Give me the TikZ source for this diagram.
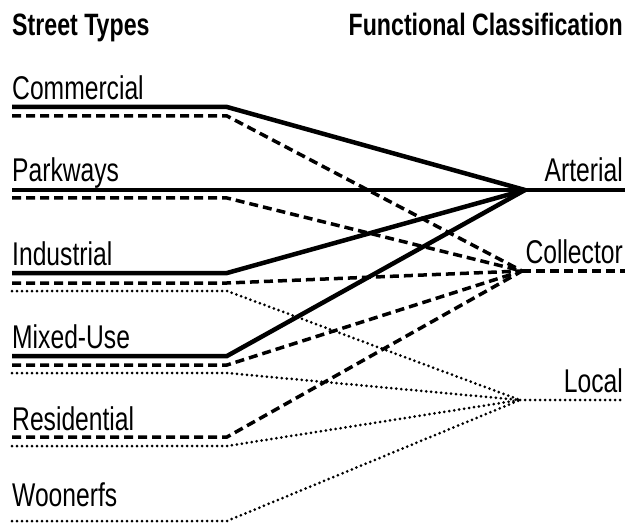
\documentclass[tikz,border=0pt]{standalone}
\usepackage{fontspec}
\setmainfont[FakeStretch=0.75]{Liberation Sans}

\begin{document}
\begin{tikzpicture}[x=1bp,y=-1bp]
    \tikzstyle{S}=[line width=4.5bp]
    \tikzstyle{D}=[line width=3.5bp,dash pattern=on 9bp off 5bp]
    \tikzstyle{P}=[line width=3bp,line cap=round,dash pattern=on 0bp off 5bp]
    \tikzstyle{lbl}=[inner sep=0pt,anchor=base west,font=\fontsize{33}{33}\selectfont]
    \tikzstyle{cls}=[inner sep=0pt,anchor=base east,font=\fontsize{33}{33}\selectfont]
    \tikzstyle{hd}=[inner sep=0pt,font=\fontsize{31}{31}\selectfont\bfseries]

    \useasboundingbox (0,0) rectangle (635,523);

    % Headers
    \node [hd,anchor=base west] (types) at (12,36) {Street Types};
    \node [hd,anchor=base east] (fclass) at (623,36) {Functional Classification};

    % Street types
    \node [lbl] (com) at (12,100) {Commercial};
    \node [lbl] (park) at (12,182) {Parkways};
    \node [lbl] (ind) at (12,265) {Industrial};
    \node [lbl] (mix) at (12,348) {Mixed-Use};
    \node [lbl] (res) at (12,430) {Residential};
    \node [lbl] (woon) at (12,506) {Woonerfs};

    % Classes
    \node [cls] (art) at (623,182) {Arterial};
    \node [cls] (col) at (623,263) {Collector};
    \node [cls] (loc) at (623,392) {Local};

    % Junctions
    \coordinate (artJ) at (525,190);
    \coordinate (colJ) at (522,271);
    \coordinate (locJ) at (520,400);
    \coordinate (artE) at (625,190);
    \coordinate (colE) at (625,271);
    \coordinate (locE) at (625,400);

    % Solid: arterial
    \draw [S] (12,107) coordinate (comS) -- (227,107) coordinate (comSb) -- (artJ);
    \draw [S] (12,190) coordinate (parkS) -- (artJ) -- (artE);
    \draw [S] (12,273) coordinate (indS) -- (227,273) coordinate (indSb) -- (artJ);
    \draw [S] (12,356) coordinate (mixS) -- (227,356) coordinate (mixSb) -- (artJ);

    % Dashed: collector
    \draw [D] (12,116) coordinate (comD) -- (227,116) coordinate (comDb) -- (colJ);
    \draw [D] (12,198) coordinate (parkD) -- (227,198) coordinate (parkDb) -- (colJ);
    \draw [D] (12,283) coordinate (indD) -- (227,283) coordinate (indDb) -- (colJ);
    \draw [D] (12,365) coordinate (mixD) -- (227,365) coordinate (mixDb) -- (colJ);
    \draw [D] (12,437) coordinate (resD) -- (227,437) coordinate (resDb) -- (colJ);
    \draw [D] (colJ) -- (colE);

    % Dotted: local
    \draw [P] (12,291) coordinate (indP) -- (227,291) coordinate (indPb) -- (locJ);
    \draw [P] (12,373) coordinate (mixP) -- (227,373) coordinate (mixPb) -- (locJ);
    \draw [P] (12,446) coordinate (resP) -- (227,446) coordinate (resPb) -- (locJ);
    \draw [P] (12,521) coordinate (woonP) -- (227,521) coordinate (woonPb) -- (locJ);
    \draw [P] (locJ) -- (locE);
\end{tikzpicture}
\end{document}
